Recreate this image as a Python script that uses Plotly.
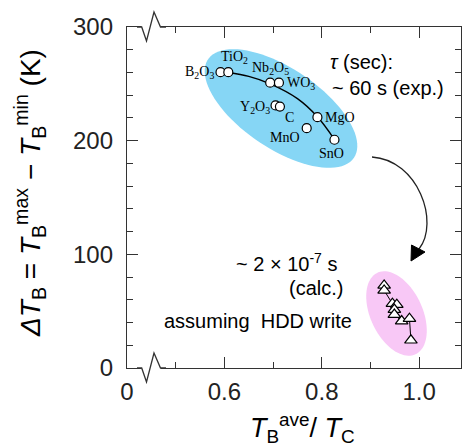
import numpy as np
import plotly.graph_objects as go

# ---------------- data ----------------
oxide_names = ["B<sub>2</sub>O<sub>3</sub>", "TiO<sub>2</sub>", "Nb<sub>2</sub>O<sub>5</sub>",
               "WO<sub>3</sub>", "Y<sub>2</sub>O<sub>3</sub>", "C", "MgO", "MnO", "SnO"]
oxide_x = [0.592, 0.608, 0.694, 0.712, 0.705, 0.714, 0.791, 0.769, 0.826]
oxide_y = [260.3, 260.3, 251.0, 251.0, 231.0, 230.0, 220.7, 211.0, 200.8]

fit_x = [0.608, 0.650, 0.694, 0.750, 0.791, 0.826]
fit_y = [260.0, 256.5, 250.0, 237.0, 221.0, 201.0]

calc_x = [0.928, 0.928, 0.945, 0.954, 0.949, 0.949, 0.964, 0.980, 0.983]
calc_y = [72.7, 68.3, 56.6, 55.7, 51.4, 47.0, 41.3, 43.4, 24.4]

x_tickvals = [0.4, 0.6, 0.8, 1.0]
x_ticktext = ["0", "0.6", "0.8", "1.0"]
y_tickvals = [0, 100, 200, 300]

# ---------------- geometry helpers ----------------
W, H = 463, 448
L, R, T, B = 127, 2, 27, 80
X0 = 0.4
PX_PER_X = 487.0
X1 = X0 + (W - L - R) / PX_PER_X
PH = H - T - B


def dx(px):
    return X0 + (px - L) / PX_PER_X


def dy(py):
    return (T + PH - py) * 300.0 / PH


def paper_x(px):
    return (px - L) / (W - L - R)


def paper_y(py):
    return (T + PH - py) / PH


def ellipse_path(cx, cy, a, b, theta_deg, n=90):
    th = np.radians(theta_deg)
    t = np.linspace(0, 2 * np.pi, n)
    px = cx + a * np.cos(th) * np.cos(t) - b * np.sin(th) * np.sin(t)
    py = cy + a * np.sin(th) * np.cos(t) + b * np.cos(th) * np.sin(t)
    pts = [f"{dx(u):.5f},{dy(v):.3f}" for u, v in zip(px, py)]
    return "M " + " L ".join(pts) + " Z"


SANS = "Arial, Liberation Sans, sans-serif"
SERIF = "Times New Roman, Liberation Serif, serif"

fig = go.Figure()

# fit curve
fig.add_trace(go.Scatter(x=fit_x, y=fit_y, mode="lines",
                         line=dict(color="black", width=1.4, shape="spline"),
                         hoverinfo="skip", showlegend=False))
# experimental points
fig.add_trace(go.Scatter(x=oxide_x, y=oxide_y, mode="markers",
                         marker=dict(symbol="circle", size=9, color="white",
                                     line=dict(color="black", width=1.2)),
                         showlegend=False))
# calculated points
fig.add_trace(go.Scatter(x=calc_x, y=calc_y, mode="lines+markers",
                         line=dict(color="black", width=1),
                         marker=dict(symbol="triangle-up", size=11, color="white",
                                     line=dict(color="black", width=1.2)),
                         showlegend=False))

shapes = []
# ellipses
shapes.append(dict(type="path", xref="x", yref="y", layer="below",
                   path=ellipse_path(281, 108.5, 88, 40, 34),
                   fillcolor="#86d6f5", line=dict(width=0)))
shapes.append(dict(type="path", xref="x", yref="y", layer="below",
                   path=ellipse_path(396.5, 313.5, 45, 26, 65),
                   fillcolor="#f8c8f6", line=dict(width=0)))

# curved arrow
p0, c1, c2, p3 = (372, 157), (418, 160), (440, 222), (419, 249)
shapes.append(dict(type="path", xref="x", yref="y",
                   path=(f"M {dx(p0[0])},{dy(p0[1])} C {dx(c1[0])},{dy(c1[1])} "
                         f"{dx(c2[0])},{dy(c2[1])} {dx(p3[0])},{dy(p3[1])}"),
                   line=dict(color="#222", width=1.3)))
tip, b1, b2 = (411, 261), (411.5, 245), (425, 252)
shapes.append(dict(type="path", xref="x", yref="y",
                   path=(f"M {dx(tip[0])},{dy(tip[1])} L {dx(b1[0])},{dy(b1[1])} "
                         f"L {dx(b2[0])},{dy(b2[1])} Z"),
                   fillcolor="black", line=dict(color="black", width=1)))

# axis breaks (bottom and top)
for ya in (T + PH, T):
    shapes.append(dict(type="rect", xref="paper", yref="paper",
                       x0=paper_x(141.5), x1=paper_x(161), y0=paper_y(ya - 2.5), y1=paper_y(ya + 2.5),
                       fillcolor="white", line=dict(width=0), layer="above"))
    zig = [(137, ya), (141.7, ya), (146.5, ya + 14), (154, ya - 15), (160.5, ya), (166, ya)]
    shapes.append(dict(type="path", xref="paper", yref="paper", layer="above",
                       path="M " + " L ".join(f"{paper_x(u):.5f},{paper_y(v):.5f}" for u, v in zig),
                       line=dict(color="#333", width=1.3)))

annotations = []
label_pos = [  # xanchor, xshift, yshift
    ("right", -5, 0), ("center", 6, 15), ("center", 0, 14), ("left", 6, -1),
    ("right", -4, -2), ("left", 3, -11), ("left", 6, 0), ("right", -5, -9), ("center", -3, -14)]
for name, x, y, (xa, xs, ys) in zip(oxide_names, oxide_x, oxide_y, label_pos):
    annotations.append(dict(x=x, y=y, xref="x", yref="y", text=name, showarrow=False,
                            xanchor=xa, yanchor="middle", xshift=xs, yshift=ys,
                            font=dict(family=SERIF, size=14, color="black")))

txt_font = dict(family=SANS, size=20, color="black")
annotations += [
    dict(x=dx(328), y=dy(62), xref="x", yref="y", text="<i>τ</i> (sec):", showarrow=False,
         xanchor="left", yanchor="middle", font=txt_font),
    dict(x=dx(330), y=dy(88), xref="x", yref="y", text="~ 60 s (exp.)", showarrow=False,
         xanchor="left", yanchor="middle", font=txt_font),
    dict(x=dx(339), y=dy(262), xref="x", yref="y", text="~ 2 × 10<sup>-7</sup> s", showarrow=False,
         xanchor="right", yanchor="middle", font=txt_font),
    dict(x=dx(345), y=dy(288), xref="x", yref="y", text="(calc.)", showarrow=False,
         xanchor="right", yanchor="middle", font=txt_font),
    dict(x=dx(354), y=dy(321), xref="x", yref="y", text="assuming  HDD write", showarrow=False,
         xanchor="right", yanchor="middle", font=txt_font),
    # axis titles
    dict(x=paper_x(30), y=paper_y(193), xref="paper", yref="paper", textangle=-90,
         text="<i>ΔT</i><sub>B</sub> = <i>T</i><sub>B</sub><sup>max</sup> − <i>T</i><sub>B</sub><sup>min</sup> (K)",
         showarrow=False, xanchor="center", yanchor="middle",
         font=dict(family=SANS, size=28, color="black")),
    dict(x=paper_x(302), y=paper_y(428), xref="paper", yref="paper",
         text="<i>T</i><sub>B</sub><sup>ave</sup>/ <i>T</i><sub>C</sub>",
         showarrow=False, xanchor="center", yanchor="middle",
         font=dict(family=SANS, size=27, color="black")),
]

axis_common = dict(showline=True, linecolor="#333", linewidth=1.3, mirror="ticks",
                   ticks="inside", ticklen=11, tickwidth=1.2, tickcolor="#333",
                   showgrid=False, zeroline=False,
                   tickfont=dict(family=SANS, size=24, color="#222"))

fig.update_layout(
    width=W, height=H,
    margin=dict(l=L, r=R, t=T, b=B),
    paper_bgcolor="white", plot_bgcolor="white",
    shapes=shapes, annotations=annotations,
    xaxis=dict(range=[X0, X1], tickvals=x_tickvals, ticktext=x_ticktext,
               minor=dict(tickvals=[0.5, 0.7, 0.9], ticks="inside", ticklen=6,
                          tickwidth=1.2, tickcolor="#333"),
               ticklabelstandoff=2, **axis_common),
    yaxis=dict(range=[0, 300], tickvals=y_tickvals,
               minor=dict(dtick=20, ticks="inside", ticklen=6, tickwidth=1.2, tickcolor="#333"),
               ticklabelstandoff=8, **axis_common),
    showlegend=False,
)

fig.write_html("out.html", config={"displayModeBar": False},
               post_script="document.body.style.margin='0px';document.body.style.overflow='hidden';")
